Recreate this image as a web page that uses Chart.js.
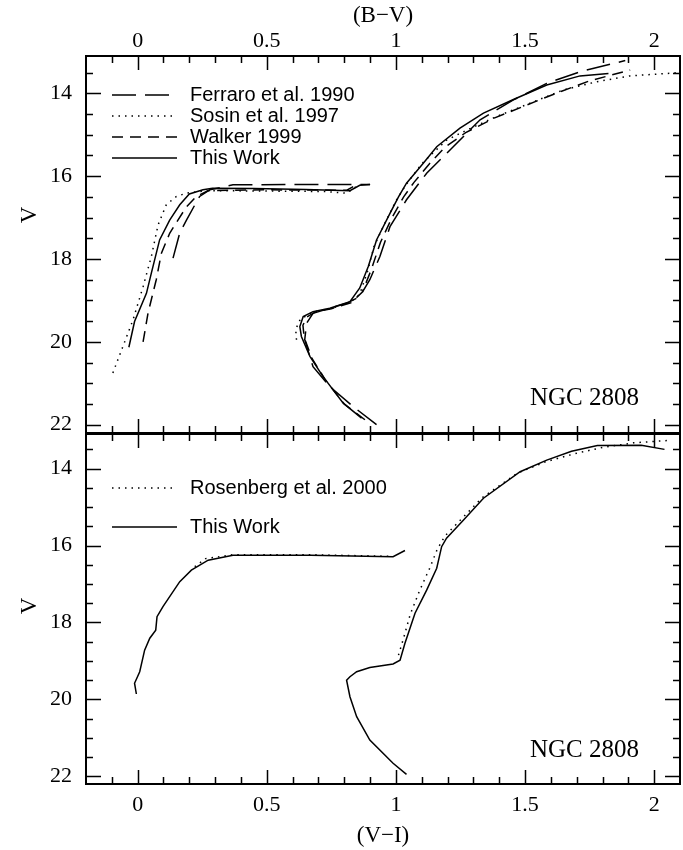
<!DOCTYPE html>
<html>
<head>
<meta charset="utf-8">
<script src="https://cdn.jsdelivr.net/npm/chart.js@4/dist/chart.umd.min.js"></script>
<style>
  body { margin: 0; background: #fff; }
  .panel { position: absolute; left: 0; }
</style>
</head>
<body>
<canvas id="topChart" class="panel" width="683" height="440" style="top:0"></canvas>
<canvas id="botChart" class="panel" width="683" height="430" style="top:420px"></canvas>
<script>
// axis ticks
const colorTicks = [0, 0.5, 1, 1.5, 2];
const colorTickLabels = ['0', '0.5', '1', '1.5', '2'];
const magTicks = [14, 16, 18, 20, 22];
const magTickLabels = ['14', '16', '18', '20', '22'];

// top panel: (B-V), V
const topLabels = ['Ferraro et al. 1990', 'Sosin et al. 1997', 'Walker 1999', 'This Work'];

const ferraroHbBV = [0.137, 0.163, 0.189, 0.221, 0.240, 0.279, 0.369, 0.60, 0.90];
const ferraroHbV  = [17.98, 17.37, 17.06, 16.70, 16.49, 16.33, 16.21, 16.20, 16.20];
const ferraroRgbBV = [0.925, 0.834, 0.744, 0.679, 0.647, 0.654, 0.679, 0.744, 0.809, 0.860, 0.899, 0.938, 0.977, 1.041, 1.119, 1.222, 1.326, 1.455, 1.584, 1.713, 1.888];
const ferraroRgbV  = [22.00, 21.56, 21.08, 20.60, 19.95, 19.55, 19.31, 19.19, 19.07, 18.91, 18.50, 17.94, 17.22, 16.57, 15.93, 15.29, 14.64, 14.16, 13.76, 13.48, 13.21];

const sosinHbBV = [-0.096, -0.057, -0.018, 0.021, 0.053, 0.079, 0.111, 0.150, 0.189, 0.266, 0.50, 0.72, 0.809, 0.847];
const sosinHbV  = [20.75, 20.11, 19.47, 18.67, 17.94, 17.18, 16.69, 16.49, 16.41, 16.35, 16.36, 16.37, 16.41, 16.25];
const sosinRgbBV = [0.615, 0.612, 0.630, 0.680, 0.745, 0.820, 0.860, 0.890, 0.915, 0.960, 1.000, 1.040, 1.100, 1.196, 1.274, 1.390, 1.519, 1.648, 1.778, 1.907, 2.100];
const sosinRgbV  = [19.95, 19.70, 19.45, 19.28, 19.20, 19.06, 18.85, 18.30, 17.70, 17.10, 16.60, 16.20, 15.70, 15.13, 14.89, 14.56, 14.24, 13.92, 13.72, 13.58, 13.50];

const walkerHbBV = [0.021, 0.040, 0.072, 0.092, 0.124, 0.156, 0.189, 0.227, 0.272, 0.50, 0.81, 0.85];
const walkerHbV  = [20.00, 19.31, 18.50, 17.86, 17.38, 17.06, 16.74, 16.49, 16.35, 16.33, 16.34, 16.20];
const walkerRgbBV = [0.880, 0.800, 0.725, 0.675, 0.645, 0.640, 0.655, 0.690, 0.750, 0.825, 0.870, 0.905, 0.940, 0.985, 1.030, 1.070, 1.130, 1.190, 1.270, 1.380, 1.500, 1.620, 1.750, 1.907];
const walkerRgbV  = [21.88, 21.50, 20.90, 20.40, 19.90, 19.60, 19.40, 19.27, 19.20, 19.06, 18.80, 18.25, 17.60, 17.00, 16.50, 16.15, 15.70, 15.30, 14.95, 14.60, 14.30, 14.00, 13.70, 13.44];

const thisHbBV = [-0.034, -0.012, 0.034, 0.053, 0.085, 0.124, 0.163, 0.200, 0.253, 0.290, 0.45, 0.65, 0.822, 0.860, 0.900];
const thisHbV  = [20.13, 19.51, 18.83, 18.34, 17.54, 17.06, 16.69, 16.43, 16.33, 16.29, 16.30, 16.32, 16.35, 16.22, 16.20];
const thisRgbBV = [0.867, 0.796, 0.718, 0.667, 0.634, 0.628, 0.641, 0.679, 0.744, 0.822, 0.860, 0.893, 0.925, 0.977, 1.010, 1.041, 1.106, 1.158, 1.248, 1.339, 1.455, 1.584, 1.713, 1.823];
const thisRgbV  = [21.84, 21.48, 20.84, 20.35, 19.87, 19.63, 19.39, 19.27, 19.19, 19.03, 18.70, 18.18, 17.54, 16.90, 16.50, 16.17, 15.69, 15.29, 14.84, 14.48, 14.15, 13.80, 13.58, 13.52];

// bottom panel: (V-I), V
const botLabels = ['Rosenberg et al. 2000', 'This Work'];

const rosenHbVI = [0.221, 0.263, 0.369, 0.67, 0.977];
const rosenHbV  = [16.55, 16.34, 16.24, 16.24, 16.28];
const rosenRgbVI = [1.010, 1.030, 1.055, 1.090, 1.130, 1.160, 1.190, 1.255, 1.335, 1.470, 1.580, 1.700, 1.800, 1.920, 2.050];
const rosenRgbV  = [18.85, 18.40, 17.80, 17.20, 16.60, 16.10, 15.75, 15.30, 14.75, 14.12, 13.82, 13.60, 13.45, 13.33, 13.27];

const thisHbVI = [-0.005, -0.012, 0.008, 0.027, 0.047, 0.070, 0.075, 0.098, 0.163, 0.208, 0.273, 0.369, 0.67, 0.989, 1.035];
const thisHbVIV = [19.86, 19.58, 19.28, 18.72, 18.41, 18.20, 17.85, 17.59, 16.94, 16.64, 16.38, 16.25, 16.25, 16.29, 16.13];
const thisRgbVI = [1.041, 0.989, 0.899, 0.848, 0.822, 0.809, 0.822, 0.848, 0.899, 0.989, 1.016, 1.035, 1.074, 1.119, 1.158, 1.177, 1.196, 1.261, 1.339, 1.481, 1.584, 1.680, 1.780, 1.950, 2.040];
const thisRgbVIV = [21.95, 21.66, 21.06, 20.45, 19.93, 19.50, 19.41, 19.28, 19.17, 19.08, 18.98, 18.54, 17.76, 17.16, 16.59, 16.03, 15.81, 15.34, 14.77, 14.08, 13.78, 13.55, 13.40, 13.39, 13.50];

const serif = 'Liberation Serif';
const sans = 'Liberation Sans';

function pts(xs, ys) {
    return xs.map((x, i) => ({ x: x, y: ys[i] }));
}

function curve(label, xs, ys, dash) {
    return {
        label: label,
        data: pts(xs, ys),
        showLine: true,
        pointRadius: 0,
        borderColor: '#000',
        borderWidth: 1.5,
        borderDash: dash,
        fill: false
    };
}

const longDash = [24, 9];
const dotted = [1.5, 5];
const shortDash = [11, 7];
const solid = [];

// inward ticks on all four sides plus the frame
const frameTicks = {
    id: 'frameTicks',
    afterDatasetsDraw(chart) {
        const { ctx, chartArea: a, scales: { x, y } } = chart;
        ctx.save();
        ctx.strokeStyle = '#000';
        ctx.setLineDash([]);
        ctx.lineWidth = 1.5;
        ctx.beginPath();
        for (let i = -1; i <= 20; i++) {
            const v = i / 10;
            const px = Math.round(x.getPixelForValue(v)) + 0.5;
            const len = i % 5 === 0 ? 14 : 7;
            ctx.moveTo(px, a.bottom); ctx.lineTo(px, a.bottom - len);
            ctx.moveTo(px, a.top); ctx.lineTo(px, a.top + len);
        }
        for (let i = 27; i <= 44; i++) {
            const v = i / 2;
            const py = Math.round(y.getPixelForValue(v)) + 0.5;
            const len = i % 4 === 0 ? 15 : 7;
            ctx.moveTo(a.left, py); ctx.lineTo(a.left + len, py);
            ctx.moveTo(a.right, py); ctx.lineTo(a.right - len, py);
        }
        ctx.stroke();
        ctx.lineWidth = 2;
        ctx.strokeRect(a.left, a.top, a.right - a.left, a.bottom - a.top);
        ctx.restore();
    }
};

// legend drawn inside the plot, using each dataset's own dash style
const innerLegend = {
    id: 'innerLegend',
    afterDraw(chart, args, opts) {
        const { ctx } = chart;
        ctx.save();
        ctx.strokeStyle = '#000';
        ctx.fillStyle = '#000';
        ctx.lineWidth = 1.5;
        ctx.font = '20px ' + sans;
        ctx.textBaseline = 'middle';
        opts.labels.forEach((label, i) => {
            const ds = chart.data.datasets.find(d => d.label === label);
            const yy = opts.y + i * opts.rowGap;
            ctx.setLineDash(ds.borderDash);
            ctx.beginPath();
            ctx.moveTo(opts.x, yy);
            ctx.lineTo(opts.x + 65, yy);
            ctx.stroke();
            ctx.fillText(label, opts.x + 78, yy);
        });
        ctx.setLineDash([]);
        ctx.font = '25px ' + serif;
        ctx.textAlign = 'right';
        ctx.fillText('NGC 2808', opts.nameX, opts.nameY);

        // y axis title, rotated
        ctx.font = '23px ' + serif;
        ctx.textAlign = 'center';
        ctx.translate(30, opts.vY);
        ctx.rotate(-Math.PI / 2);
        ctx.fillText('V', 0, 0);
        ctx.restore();
    }
};

function tickFont() {
    return { family: serif, size: 22 };
}

function noPadding(s) {
    s.paddingTop = 0;
    s.paddingBottom = 0;
    s.paddingLeft = 0;
    s.paddingRight = 0;
}

function xScale(pos, title, height, pad, titlePad) {
    return {
        type: 'linear',
        position: pos,
        min: -0.2,
        max: 2.1,
        afterBuildTicks: s => { s.ticks = colorTicks.map(v => ({ value: v })); },
        afterFit: s => { s.height = height; noPadding(s); },
        grid: { display: false, drawTicks: false },
        border: { display: false },
        ticks: {
            font: tickFont(),
            color: '#000',
            padding: pad,
            maxRotation: 0,
            callback: v => colorTickLabels[colorTicks.indexOf(v)]
        },
        title: { display: true, text: title, font: { family: serif, size: 23 }, color: '#000', padding: titlePad }
    };
}

function yScale() {
    return {
        type: 'linear',
        reverse: true,
        min: 13.1,
        max: 22.2,
        afterBuildTicks: s => { s.ticks = magTicks.map(v => ({ value: v })); },
        afterFit: s => { s.width = 86; noPadding(s); },
        grid: { display: false, drawTicks: false },
        border: { display: false },
        ticks: {
            font: tickFont(),
            color: '#000',
            padding: 14,
            callback: v => magTickLabels[magTicks.indexOf(v)]
        },
        title: { display: false }
    };
}

new Chart(document.getElementById('topChart'), {
    type: 'scatter',
    data: {
        datasets: [
            curve(topLabels[0], ferraroHbBV, ferraroHbV, longDash),
            curve(topLabels[0], ferraroRgbBV, ferraroRgbV, longDash),
            curve(topLabels[1], sosinHbBV, sosinHbV, dotted),
            curve(topLabels[1], sosinRgbBV, sosinRgbV, dotted),
            curve(topLabels[2], walkerHbBV, walkerHbV, shortDash),
            curve(topLabels[2], walkerRgbBV, walkerRgbV, shortDash),
            curve(topLabels[3], thisHbBV, thisHbV, solid),
            curve(topLabels[3], thisRgbBV, thisRgbV, solid)
        ]
    },
    options: {
        responsive: false,
        animation: false,
        layout: { padding: { left: 0, right: 3, top: 0, bottom: 7 } },
        plugins: {
            legend: { display: false },
            tooltip: { enabled: false },
            innerLegend: { labels: topLabels, x: 112, y: 95, rowGap: 21, nameX: 639, nameY: 398, vY: 215 }
        },
        scales: {
            x: xScale('top', '(B−V)', 56, 2, { top: 2, bottom: 0 }),
            y: yScale()
        }
    },
    plugins: [frameTicks, innerLegend]
});

new Chart(document.getElementById('botChart'), {
    type: 'scatter',
    data: {
        datasets: [
            curve(botLabels[0], rosenHbVI, rosenHbV, dotted),
            curve(botLabels[0], rosenRgbVI, rosenRgbV, dotted),
            curve(botLabels[1], thisHbVI, thisHbVIV, solid),
            curve(botLabels[1], thisRgbVI, thisRgbVIV, solid)
        ]
    },
    options: {
        responsive: false,
        animation: false,
        layout: { padding: { left: 0, right: 3, top: 14, bottom: 0 } },
        plugins: {
            legend: { display: false },
            tooltip: { enabled: false },
            innerLegend: { labels: botLabels, x: 112, y: 68, rowGap: 39, nameX: 639, nameY: 330, vY: 186 }
        },
        scales: {
            x: xScale('bottom', '(V−I)', 66, 8, 0),
            y: yScale()
        }
    },
    plugins: [frameTicks, innerLegend]
});
</script>
</body>
</html>
